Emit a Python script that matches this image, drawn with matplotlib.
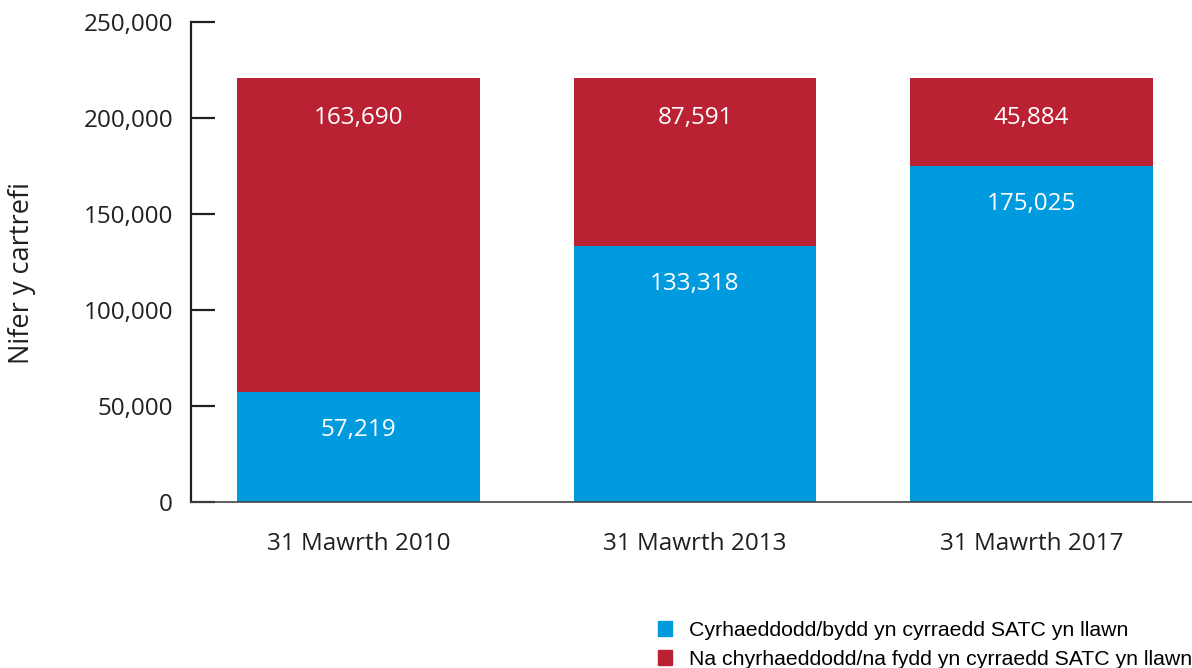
import matplotlib
matplotlib.use("Agg")
import matplotlib.pyplot as plt
from matplotlib.patches import Patch
from matplotlib.ticker import FuncFormatter

categories = ["31 Mawrth 2010", "31 Mawrth 2013", "31 Mawrth 2017"]
met = [57219, 133318, 175025]
not_met = [163690, 87591, 45884]
series_labels = ["Cyrhaeddodd/bydd yn cyrraedd SATC yn llawn",
                 "Na chyrhaeddodd/na fydd yn cyrraedd SATC yn llawn"]
yticks = [0, 50000, 100000, 150000, 200000, 250000]
ylabel = "Nifer y cartrefi"

BLUE = "#009ADE"
RED = "#BA2234"
DARK = "#231F20"
FONT = "Open Sans"

fig = plt.figure(figsize=(11.92, 6.68), dpi=100)
ax = fig.add_axes([191/1192, 1-502/668, 1-191/1192, (502-22)/668])

x = list(range(len(categories)))
w = 0.722
ax.bar(x, met, width=w, color=BLUE, zorder=2)
ax.bar(x, not_met, width=w, bottom=met, color=RED, zorder=2)

for i in x:
    ax.annotate(f"{met[i]:,}", (i, met[i]), xytext=(0, -27.5), textcoords="offset points",
                ha="center", va="center", color="white", fontsize=17.5, family=FONT)
    ax.annotate(f"{not_met[i]:,}", (i, met[i] + not_met[i]), xytext=(0, -29),
                textcoords="offset points", ha="center", va="center",
                color="white", fontsize=17.5, family=FONT)

ax.set_xlim(-0.498, 2.477)
ax.set_ylim(0, 250000)
ax.set_yticks(yticks)
ax.yaxis.set_major_formatter(FuncFormatter(lambda v, p: f"{int(v):,}"))
ax.set_xticks(x)
ax.set_xticklabels(categories)

for s in ["top", "right"]:
    ax.spines[s].set_visible(False)
ax.spines["left"].set_linewidth(1.6)
ax.spines["left"].set_color(DARK)
ax.spines["bottom"].set_linewidth(1.2)
ax.spines["bottom"].set_color("#444444")
ax.spines["bottom"].set_zorder(3)

ax.tick_params(axis="y", direction="in", length=17, width=1.6, color=DARK,
               pad=13, labelsize=17.5, labelcolor=DARK)
ax.tick_params(axis="x", length=0, pad=21.5, labelsize=17.5, labelcolor=DARK)
for lab in ax.get_yticklabels() + ax.get_xticklabels():
    lab.set_family(FONT)

fig.text(22/1192, 1-273/668, ylabel, rotation=90, ha="center", va="center",
         fontsize=19.5, family=FONT, color=DARK)

handles = [Patch(color=BLUE), Patch(color=RED)]
fig.legend(handles, series_labels, loc="upper left",
           bbox_to_anchor=(658/1192, 1-621/668), frameon=False,
           prop={"family": "Liberation Sans", "size": 15.3},
           handlelength=0.66, handleheight=0.66, handletextpad=0.8,
           labelspacing=0.47, borderpad=0, borderaxespad=0)

fig.savefig("out.png", dpi=100)
